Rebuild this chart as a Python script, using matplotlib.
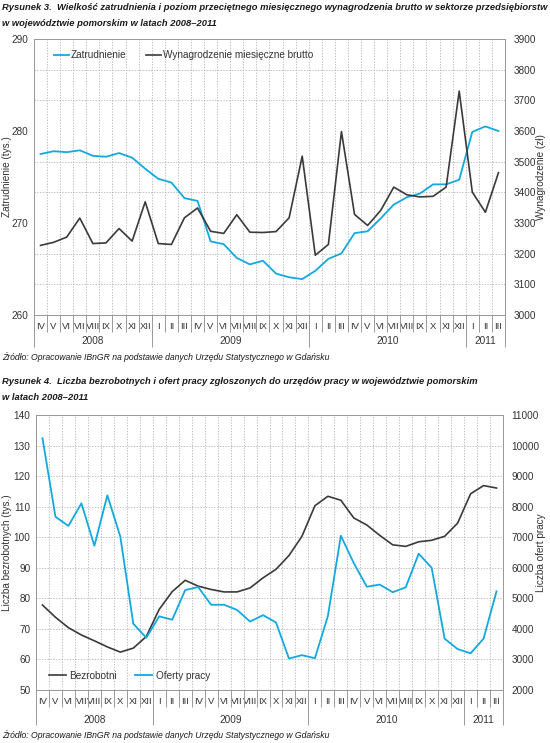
import matplotlib
matplotlib.use("Agg")
import matplotlib.pyplot as plt
from matplotlib import font_manager
from matplotlib.ticker import FixedLocator
import numpy as np

# --- data -----------------------------------------------------------------
roman = ["I", "II", "III", "IV", "V", "VI", "VII", "VIII", "IX", "X", "XI", "XII"]
months = roman[3:] + roman + roman + roman[:3]
years = ["2008", "2009", "2010", "2011"]
year_len = [9, 12, 12, 3]

zatrudnienie = [277.5, 277.8, 277.7, 277.9, 277.3, 277.2, 277.6, 277.1, 275.9,
                274.8, 274.4, 272.7, 272.4, 268.0, 267.7, 266.2, 265.5, 265.9, 264.5, 264.1, 263.9,
                264.8, 266.1, 266.7, 268.9, 269.1, 270.5, 272.0, 272.8, 273.2, 274.2, 274.2, 274.7,
                279.9, 280.5, 280.0]
wynagrodzenie = [3227, 3237, 3254, 3316, 3233, 3235, 3282, 3241, 3369,
                 3233, 3230, 3317, 3349, 3273, 3266, 3327, 3270, 3269, 3272, 3317, 3518,
                 3195, 3230, 3598, 3328, 3292, 3341, 3417, 3392, 3385, 3387, 3417, 3730,
                 3401, 3335, 3464]

bezrobotni = [77.8, 73.8, 70.4, 68.0, 66.1, 64.1, 62.4, 63.7, 67.5,
              76.4, 82.2, 85.9, 84.0, 82.9, 82.1, 82.1, 83.4, 86.7, 89.5, 94.0, 100.3,
              110.3, 113.4, 112.1, 106.3, 104.0, 100.6, 97.5, 97.0, 98.5, 99.0, 100.3, 104.6,
              114.2, 116.9, 116.1]
oferty = [10240, 7670, 7370, 8110, 6720, 8370, 7020, 4170, 3710,
          4410, 4300, 5270, 5370, 4790, 4790, 4620, 4240, 4450, 4210, 3030, 3140,
          3040, 4420, 7050, 6150, 5380, 5450, 5200, 5360, 6460, 6000, 3680, 3340,
          3200, 3680, 5230]

title1 = ["Rysunek 3.  Wielkość zatrudnienia i poziom przeciętnego miesięcznego wynagrodzenia brutto w sektorze przedsiębiorstw",
          "w województwie pomorskim w latach 2008–2011"]
title2 = ["Rysunek 4.  Liczba bezrobotnych i ofert pracy zgłoszonych do urzędów pracy w województwie pomorskim",
          "w latach 2008–2011"]
zrodlo = "Źródło: Opracowanie IBnGR na podstawie danych Urzędu Statystycznego w Gdańsku"

BLUE = "#12a9e0"
DARK = "#3a3a3a"
GRID = "#a8a8a8"
FRAME = "#9a9a9a"

names = {f.name for f in font_manager.fontManager.ttflist}
NARROW = "Liberation Sans Narrow" if "Liberation Sans Narrow" in names else "Liberation Sans"
plt.rcParams["font.family"] = [NARROW, "DejaVu Sans"]
plt.rcParams["font.size"] = 7
plt.rcParams["text.color"] = "#333333"

W, H = 550, 743
fig = plt.figure(figsize=(W / 100, H / 100), dpi=100)
renderer = fig.canvas.get_renderer()


def box(x0, y0, x1, y1):
    return [x0 / W, 1 - y1 / H, (x1 - x0) / W, (y1 - y0) / H]


def fit(t, width_px):
    # shrink/grow a text so that it spans width_px
    w = t.get_window_extent(renderer).width
    t.set_fontsize(t.get_fontsize() * width_px / w)
    return t.get_fontsize()


def month_axis(ax, ybot_year, ylab_year):
    n = len(months)
    x = np.arange(n)
    ax.set_xlim(-0.5, n - 0.5)
    ax.set_xticks(x)
    ax.set_xticklabels(months, fontsize=6.8)
    ax.xaxis.set_minor_locator(FixedLocator(np.arange(n + 1) - 0.5))
    ax.tick_params(axis="x", which="major", length=0, pad=5, colors="#333333")
    ax.tick_params(axis="x", which="minor", length=12, width=0.7, color=FRAME, direction="out")
    ax.grid(axis="x", which="minor", color=GRID, lw=0.5, ls=(0, (2, 2)))
    bounds = np.concatenate([[0], np.cumsum(year_len)]) - 0.5
    trans = ax.get_xaxis_transform()
    ax.vlines(bounds, ybot_year, 0, transform=trans, clip_on=False, color=FRAME, lw=0.7)
    for y, a, b in zip(years, bounds[:-1], bounds[1:]):
        ax.text((a + b) / 2, ylab_year, y, transform=trans, ha="center", va="center", fontsize=7.2)
    for s in ax.spines.values():
        s.set_color(FRAME)
        s.set_linewidth(0.7)


def titles(lines, y0, size):
    out = []
    for k, t in enumerate(lines):
        out.append(fig.text(2 / W, 1 - (y0 + 15 * k) / H, t, ha="left", va="center", fontsize=size,
                            fontweight="bold", fontstyle="italic", color="#1a1a1a"))
    return out


def source(y):
    t = fig.text(2 / W, 1 - y / H, zrodlo, ha="left", va="center", fontsize=7.5,
                 fontstyle="italic", color="#1a1a1a")
    fit(t, 326)


def ylabels(left, right, yc):
    fig.text(7 / W, 1 - yc / H, left, rotation=90, ha="center", va="center", fontsize=7.2)
    fig.text(541 / W, 1 - yc / H, right, rotation=90, ha="center", va="center", fontsize=7.2)


x = np.arange(len(months))

# --- Rysunek 3 --------------------------------------------------------------
t1 = titles(title1, 8, 9)
tsize = fit(t1[0], 543)
t1[1].set_fontsize(tsize)
ax = fig.add_axes(box(34, 39, 505, 315))
ax2 = ax.twinx()
ax.set_ylim(260, 290)
ax.yaxis.set_major_locator(FixedLocator([260, 270, 280, 290]))
ax.yaxis.set_minor_locator(FixedLocator(np.linspace(260, 290, 10)))
ax.grid(axis="y", which="minor", color=GRID, lw=0.5, ls=(0, (2, 2)))
ax.tick_params(axis="y", which="both", length=0, pad=4, colors="#333333", labelsize=7.2)
ax2.set_ylim(3000, 3900)
ax2.set_yticks(np.arange(3000, 3901, 100))
ax2.tick_params(axis="y", length=0, pad=6, colors="#333333", labelsize=7.2)
month_axis(ax, -0.116, -0.094)
for s in ax2.spines.values():
    s.set_color(FRAME)
    s.set_linewidth(0.7)
l1, = ax.plot(x, zatrudnienie, color=BLUE, lw=1.3, label="Zatrudnienie")
l2, = ax2.plot(x, wynagrodzenie, color=DARK, lw=1.2, label="Wynagrodzenie miesięczne brutto")
ylabels("Zatrudnienie (tys.)", "Wynagrodzenie (zł)", 177)
ax2.legend([l1, l2], [l1.get_label(), l2.get_label()], loc="center left",
           bbox_to_anchor=(0.034, 0.942), ncol=2, frameon=False, handlelength=1.5,
           handletextpad=0.2, columnspacing=1.9, fontsize=7.2, borderaxespad=0)
source(357)

# --- Rysunek 4 --------------------------------------------------------------
titles(title2, 382, tsize)
bx = fig.add_axes(box(36, 415, 503, 690))
bx2 = bx.twinx()
bx.set_ylim(50, 140)
bx.set_yticks(np.arange(50, 141, 10))
bx.grid(axis="y", which="major", color=GRID, lw=0.5, ls=(0, (2, 2)))
bx.tick_params(axis="y", length=0, pad=4, colors="#333333", labelsize=7.2)
bx2.set_ylim(2000, 11000)
bx2.set_yticks(np.arange(2000, 11001, 1000))
bx2.tick_params(axis="y", length=0, pad=6, colors="#333333", labelsize=7.2)
month_axis(bx, -0.127, -0.109)
for s in bx2.spines.values():
    s.set_color(FRAME)
    s.set_linewidth(0.7)
m1, = bx.plot(x, bezrobotni, color=DARK, lw=1.2, label="Bezrobotni")
m2, = bx2.plot(x, oferty, color=BLUE, lw=1.3, label="Oferty pracy")
ylabels("Liczba bezrobotnych (tys.)", "Liczba ofert pracy", 553)
bx2.legend([m1, m2], [m1.get_label(), m2.get_label()], loc="center left",
           bbox_to_anchor=(0.019, 0.052), ncol=2, frameon=False, handlelength=1.7,
           handletextpad=0.35, columnspacing=1.8, fontsize=7.2, borderaxespad=0)
source(735)

fig.savefig("out.png", dpi=100)
